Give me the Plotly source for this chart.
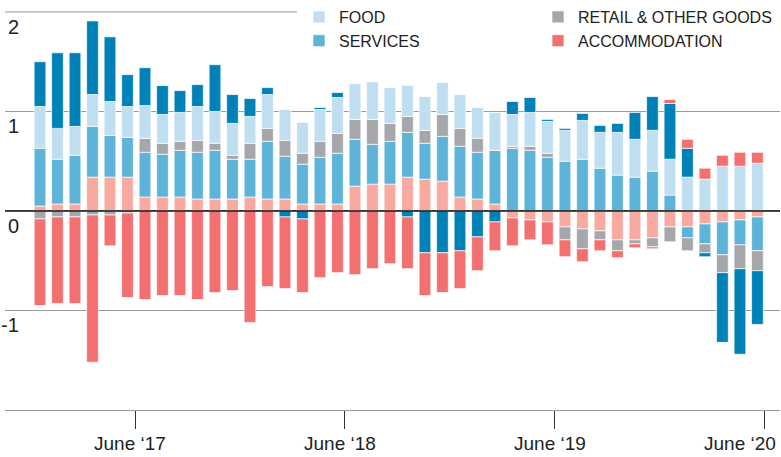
import plotly.graph_objects as go
import pandas as pd

# ---- data (percentage-point contributions), Jan 2017 .. Jun 2020 ----
months = [d.strftime("%b %Y") for d in pd.date_range("2017-01-01", periods=42, freq="MS")]

other_light = [0.05, 0.07, 0.07, 0.34, 0.34, 0.34, 0.14, 0.14, 0.14, 0.12, 0.12, 0.12,
               0.14, 0.12, 0.12, 0.07, 0.07, 0.07, 0.25, 0.27, 0.27, 0.34, 0.32, 0.30,
               0.14, 0.12, 0.07, -0.07, -0.09, -0.11, -0.16, -0.18, -0.20, -0.29, -0.29, -0.27,
               -0.16, -0.16, -0.13, -0.11, -0.09, -0.06]
services = [0.58, 0.45, 0.49, 0.51, 0.42, 0.40, 0.45, 0.43, 0.47, 0.47, 0.49, 0.40,
            0.38, 0.58, 0.43, 0.40, 0.47, 0.51, 0.47, 0.40, 0.43, 0.45, 0.36, 0.45,
            0.51, 0.47, 0.54, 0.63, 0.61, 0.54, 0.50, 0.52, 0.43, 0.36, 0.34, 0.40,
            0.16, -0.11, -0.20, -0.33, -0.25, -0.34]
retail = [-0.08, -0.06, -0.06, -0.04, -0.04, -0.02, 0.14, 0.11, 0.09, 0.12, 0.07, 0.04,
          0.16, 0.13, 0.16, 0.11, 0.16, 0.20, 0.20, 0.25, 0.18, 0.16, 0.13, 0.22,
          0.18, 0.14, 0.0, 0.02, 0.04, 0.04, -0.13, -0.20, -0.09, -0.11, -0.04, -0.09,
          -0.15, -0.13, -0.09, -0.18, -0.24, -0.20]
food = [0.42, 0.31, 0.29, 0.32, 0.34, 0.31, 0.33, 0.29, 0.29, 0.34, 0.32, 0.32,
        0.27, 0.34, 0.31, 0.31, 0.32, 0.36, 0.36, 0.38, 0.36, 0.31, 0.34, 0.32,
        0.34, 0.31, 0.38, 0.32, 0.34, 0.32, 0.31, 0.39, 0.36, 0.43, 0.38, 0.41,
        0.36, 0.34, 0.32, 0.45, 0.45, 0.48]
other_dark = [0.45, 0.76, 0.74, 0.74, 0.65, 0.32, 0.38, 0.29, 0.22, 0.22, 0.47, 0.29,
              0.18, 0.07, -0.06, -0.08, 0.02, 0.05, 0.0, 0.0, 0.0, -0.06, -0.42, -0.42,
              -0.40, -0.26, -0.11, 0.13, 0.15, 0.02, 0.02, 0.07, 0.07, 0.09, 0.27, 0.34,
              0.56, 0.29, -0.04, -0.70, -0.86, -0.54]
accommodation = [-0.87, -0.87, -0.87, -1.48, -0.31, -0.85, -0.89, -0.85, -0.85, -0.89, -0.82, -0.80,
                 -1.12, -0.76, -0.72, -0.74, -0.67, -0.62, -0.64, -0.58, -0.53, -0.52, -0.43, -0.40,
                 -0.38, -0.34, -0.29, -0.28, -0.20, -0.23, -0.17, -0.13, -0.11, -0.07, -0.04, -0.02,
                 0.04, 0.09, 0.11, 0.11, 0.14, 0.11]

tick_months = ["Jun 2017", "Jun 2018", "Jun 2019", "Jun 2020"]
tick_text = ["June \u201817", "June \u201818", "June \u201819", "June \u201820"]
y_ticks = [2, 1, 0, -1]

# ---- styles ----
C_FOOD = "#bfdef0"
C_SERV = "#5eb4d8"
C_RET = "#a6a7ab"
C_ACC = "#f27070"
C_LIGHT = "#f8a9a0"
C_DARK = "#0082b8"
GRID = "#9a9a9a"
FONT = "Liberation Sans, Arial, sans-serif"

x = list(range(len(months)))

fig = go.Figure()
series = [
    ("Other (light)", other_light, C_LIGHT, False, None, 1),
    ("SERVICES", services, C_SERV, True, "legend", 2),
    ("RETAIL & OTHER GOODS", retail, C_RET, True, "legend2", 1),
    ("FOOD", food, C_FOOD, True, "legend", 1),
    ("Other (dark)", other_dark, C_DARK, False, None, 1),
    ("ACCOMMODATION", accommodation, C_ACC, True, "legend2", 2),
]
for name, vals, col, show, leg, rank in series:
    kw = dict(legend=leg) if leg else {}
    fig.add_trace(go.Bar(
        x=x, y=vals, name=name, marker=dict(color=col, line=dict(color="white", width=0.7)),
        showlegend=show, legendrank=rank, customdata=months,
        hovertemplate="%{customdata}<br>" + name + ": %{y:.2f}<extra></extra>", **kw))

tick_pos = [months.index(m) + 0.43 for m in tick_months]
label_pos = [months.index(m) + 0.15 for m in tick_months]

fig.update_layout(
    width=781, height=457,
    margin=dict(l=5, r=1, t=0, b=47),
    barmode="relative", bargap=0.33,
    plot_bgcolor="white", paper_bgcolor="white",
    font=dict(family=FONT, color="#222"),
    xaxis=dict(range=[-2, 42.29], tickvals=tick_pos, showticklabels=False,
               ticks="outside", ticklen=18, tickcolor="#333", tickwidth=1,
               showgrid=False, zeroline=False, showline=True, linecolor=GRID, linewidth=1),
    yaxis=dict(range=[-2, 2.1], tickvals=[-1, 0, 1], showticklabels=False,
               showgrid=True, gridcolor=GRID, gridwidth=1, zeroline=False),
    legend=dict(x=(299 - 5) / 775, y=1.005, xanchor="left", yanchor="top",
                bgcolor="rgba(0,0,0,0)", font=dict(size=16, color="#222")),
    legend2=dict(x=(538 - 5) / 775, y=1.005, xanchor="left", yanchor="top",
                 bgcolor="rgba(0,0,0,0)", font=dict(size=16, color="#222")),
)

# gridline at 2 (partial, left of legend) and the zero line above bars
fig.add_shape(type="line", xref="paper", yref="y", x0=0, x1=(297 - 5) / 775, y0=2, y1=2,
              line=dict(color=GRID, width=1))
fig.add_shape(type="line", xref="paper", yref="y", x0=0, x1=1, y0=0, y1=0,
              line=dict(color="#111", width=1.5), layer="above")

for v in y_ticks:
    fig.add_annotation(text=str(v), xref="paper", yref="y", x=0, y=v, xanchor="right",
                       yanchor="middle", xshift=16, yshift=-15, showarrow=False,
                       font=dict(size=20, color="#222", family=FONT))

for i, (pos, txt) in enumerate(zip(label_pos, tick_text)):
    last = i == len(tick_text) - 1
    fig.add_annotation(text=txt, xref="paper" if last else "x", yref="paper",
                       x=1 if last else pos, y=0, yanchor="top",
                       xanchor="right" if last else "center",
                       xshift=-2 if last else 0, yshift=-21, showarrow=False,
                       font=dict(size=19, color="#222", family=FONT))

fig.add_annotation(text="PCT. POINT", xref="paper", yref="paper", x=0, y=1, xanchor="left",
                   yanchor="bottom", xshift=0, yshift=-3, showarrow=False,
                   font=dict(size=15, color="#222", family=FONT))

fig.write_html("out.html", config={"displayModeBar": False},
               post_script="document.body.style.margin='0px';document.body.style.overflow='hidden';")
